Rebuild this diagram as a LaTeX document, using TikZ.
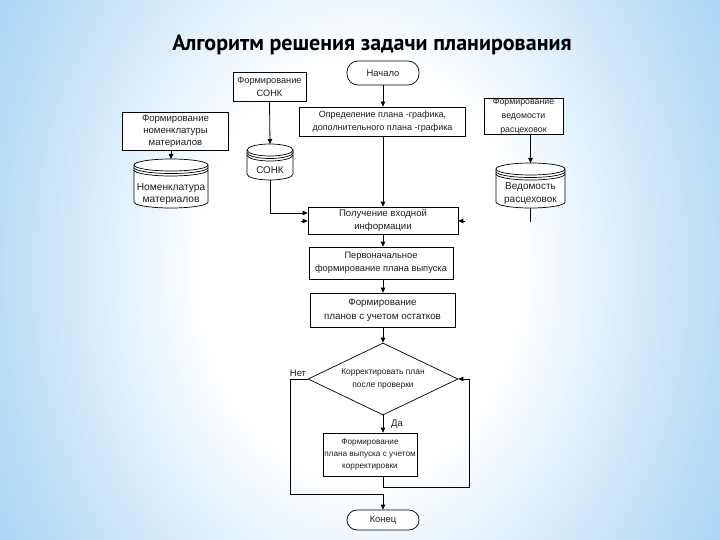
\documentclass[tikz,border=0pt]{standalone}
\usepackage{fontspec}
\setmainfont{Liberation Sans}
\newfontfamily\titlefont{PT Sans}
\usetikzlibrary{arrows.meta,shapes.geometric}
\definecolor{bgedge}{RGB}{186,221,246}
\definecolor{bgcorner}{RGB}{160,208,245}
\definecolor{txt}{RGB}{30,30,30}
\pgfdeclareradialshading{bgshade}{\pgfpoint{0bp}{0bp}}{color(0bp)=(white); color(11bp)=(white); color(25bp)=(bgedge); color(33bp)=(bgcorner); color(50bp)=(bgcorner)}
\newcommand\drawcyl[4]{%
  \pgfmathsetmacro\cylrx{(#2-#1)/2}%
  \filldraw[cyl] (#1,-#3-6) -- (#1,-#4+6) arc[start angle=180,end angle=360,x radius=\cylrx,y radius=6] -- (#2,-#3-6) arc[start angle=0,end angle=180,x radius=\cylrx,y radius=6] -- cycle;
  \foreach \dd in {6,8.5,11} \draw[cyl,fill=none] (#1,-#3-\dd) arc[start angle=180,end angle=360,x radius=\cylrx,y radius=6];
}
\begin{document}
\begin{tikzpicture}[x=1pt,y=1pt,
  box/.style={draw=black, line width=0.7pt, fill=white, align=center, font=\fontsize{9.4}{12.5}\selectfont, text=txt, inner sep=0pt},
  term/.style={box, rounded corners=11pt},
  arr/.style={line width=0.8pt, -{Triangle[length=5pt,width=4.5pt]}},
  ln/.style={line width=0.8pt},
  cyl/.style={draw=black, line width=0.7pt, fill=white},
  lbl/.style={font=\fontsize{9.8}{12.5}\selectfont, text=txt, inner sep=0pt, align=center}]
\useasboundingbox (0,-540) rectangle (720,0);
\shade[shading=bgshade] (0,-740) rectangle (720,200);

\node[font=\titlefont\bfseries\fontsize{22}{26}\selectfont, text=black] (title) at (372,-45) {Алгоритм решения задачи планирования};

% top row
\node[box, minimum width=73, minimum height=29, font=\fontsize{9.2}{12.5}\selectfont] (sonkbox) at (269.5,-87) {Формирование\\СОНК};
\node[term, minimum width=72, minimum height=24] (start) at (383,-73) {Начало};
\node[box, minimum width=166, minimum height=29, font=\fontsize{9}{12.5}\selectfont] (opred) at (382.5,-121.5) {Определение плана -графика,\\дополнительного плана -графика};
\node[box, minimum width=106, minimum height=38, font=\fontsize{9.6}{12}\selectfont] (nombox) at (175.5,-131) {Формирование\\номенклатуры\\материалов};
\node[box, minimum width=79, minimum height=35, font=\fontsize{8.8}{14}\selectfont] (vedbox) at (523.5,-116.5) {Формирование\\ведомости\\расцеховок};

% cylinders
\drawcyl{134}{208}{159}{208}
\drawcyl{247}{293}{144}{180}
\drawcyl{496}{565}{163}{208}
\node[lbl, font=\fontsize{10.2}{12.5}\selectfont] (nomcyl) at (171,-194) {Номенклатура\\материалов};
\node[lbl] (sonkcyl) at (270,-170) {СОНК};
\node[lbl, font=\fontsize{10}{13.5}\selectfont] (vedcyl) at (530.5,-193.5) {Ведомость\\расцеховок};
\coordinate (nomtop) at (171,-159);
\coordinate (sonktop) at (270,-144);
\coordinate (sonkbot) at (270,-180);
\coordinate (vedtop) at (530.5,-163);
\coordinate (vedbot) at (530.5,-208);
\coordinate (vedend) at (530.5,-222);

% main column
\node[box, minimum width=150, minimum height=27, font=\fontsize{9.6}{12.5}\selectfont] (poluch) at (383,-220.5) {Получение входной\\информации};
\node[box, minimum width=144, minimum height=32, font=\fontsize{9.3}{13}\selectfont] (perv) at (381,-263) {Первоначальное\\формирование плана выпуска};
\node[box, minimum width=145, minimum height=34, font=\fontsize{9.8}{14}\selectfont] (planov) at (382.5,-310) {Формирование\\планов с учетом остатков};
\node[diamond, draw=black, line width=0.7pt, fill=white, inner sep=0pt, minimum width=150, minimum height=72] (dia) at (383,-379) {};
\node[lbl, font=\fontsize{8.4}{12.5}\selectfont] (diatext) at (dia.center) {Корректировать план\\после проверки};
\node[box, minimum width=94, minimum height=43, font=\fontsize{8.2}{12}\selectfont] (final) at (370,-454.5) {Формирование\\плана выпуска с учетом\\корректировки};
\node[term, minimum width=72, minimum height=20, rounded corners=10pt] (end) at (383,-520) {Конец};

\node[lbl, font=\fontsize{9.5}{12}\selectfont] (net) at (298,-373) {Нет};
\node[lbl, font=\fontsize{9.5}{12}\selectfont] (da) at (397,-424) {Да};

\coordinate (stubL) at (301,-221);
\coordinate (stubR) at (465,-221);

% connectors
\draw[arr] (start.south) -- (start.south |- opred.north);
\draw[arr] (opred.south -| start.south) -- (start.south |- poluch.north);
\draw[arr] (sonkbox.south) -- (sonktop);
\draw[arr] (nombox.south -| nomtop) -- (nomtop);
\draw[arr] (vedbox.south -| vedtop) -- (vedtop);
\draw[arr] (sonkbot) |- ([yshift=7.5]poluch.west);
\draw[arr] (stubL) -- (stubL -| poluch.west);
\draw[ln] (vedbot) -- (vedend);
\draw[arr] (stubR) -- (stubR -| poluch.east);
\draw[arr] (poluch.south) -- (poluch.south |- perv.north);
\draw[arr] (perv.south -| poluch.south) -- (poluch.south |- planov.north);
\draw[arr] (planov.south -| dia.north) -- (dia.north);
\draw[arr] (dia.south) -- (dia.south |- final.north);
\draw[arr] (final.south -| dia.south) -- ++(0,-11) -| ([xshift=11]dia.east) -- (dia.east);
\draw[arr] (dia.west) -- ++(-17,0) |- ([yshift=15]end.north) -- (end.north);
\end{tikzpicture}
\end{document}
